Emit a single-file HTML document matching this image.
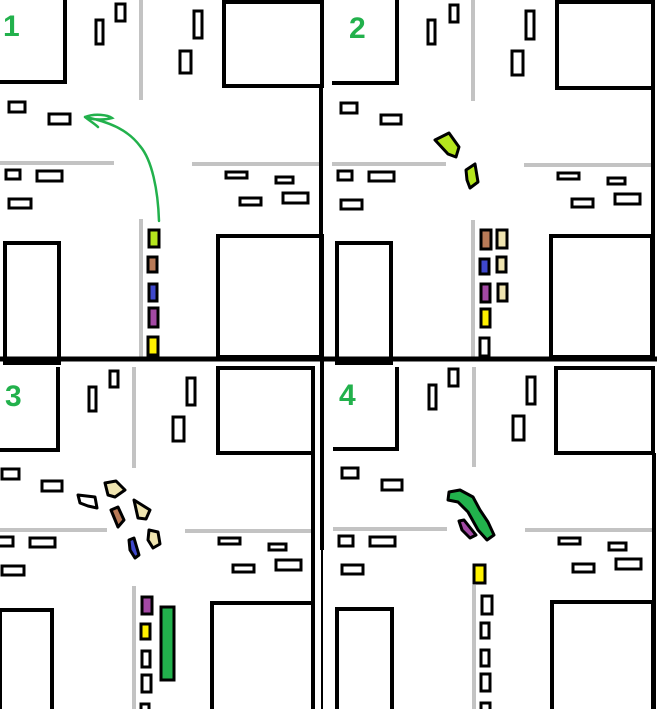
<!DOCTYPE html>
<html><head><style>html,body{margin:0;padding:0;background:#fff}svg{display:block}</style></head><body>
<svg width="657" height="709" viewBox="0 0 657 709" xmlns="http://www.w3.org/2000/svg">
<rect width="657" height="709" fill="#fff"/>
<!-- gray road lines -->
<g stroke="#c3c3c3" stroke-width="4" fill="none">
<line x1="141" y1="0" x2="141" y2="100"/><line x1="0" y1="163" x2="114" y2="163"/><line x1="192" y1="164" x2="320" y2="164"/><line x1="141" y1="219" x2="141" y2="360"/>
<line x1="473" y1="0" x2="473" y2="101"/><line x1="332" y1="164" x2="446" y2="164"/><line x1="524" y1="165" x2="652" y2="165"/><line x1="473" y1="220" x2="473" y2="360"/>
<line x1="134" y1="367" x2="134" y2="468"/><line x1="0" y1="530" x2="107" y2="530"/><line x1="185" y1="531" x2="313" y2="531"/><line x1="134" y1="586" x2="134" y2="709"/>
<line x1="474" y1="367" x2="474" y2="467"/><line x1="333" y1="529" x2="447" y2="529"/><line x1="525" y1="530" x2="653" y2="530"/><line x1="474" y1="585" x2="474" y2="709"/>
</g>
<!-- buildings -->
<g stroke="#000" stroke-width="4" fill="none">
<polyline points="65,0 65,82 0,82"/><rect x="224" y="2" width="98" height="84"/><line x1="321" y1="86" x2="321" y2="360"/>
<rect x="5" y="243" width="54" height="120"/><rect x="218" y="236" width="104" height="121"/>
<line x1="0" y1="359" x2="657" y2="359" stroke-width="5"/>
<polyline points="397,0 397,83 332,83"/><rect x="557" y="2" width="96" height="86"/><line x1="653" y1="88" x2="653" y2="360"/>
<rect x="337" y="243" width="54" height="120"/><rect x="551" y="236" width="101" height="121"/>
<polyline points="58,367 58,450 0,450"/><rect x="218" y="368" width="95" height="85"/><line x1="313" y1="453" x2="313" y2="709"/><line x1="322" y1="355" x2="322" y2="550" stroke-width="4"/><line x1="322" y1="550" x2="322" y2="709" stroke-width="2"/>
<rect x="0" y="610" width="52" height="110"/><rect x="212" y="603" width="101" height="110"/>
<polyline points="397,367 397,449 333,449"/><rect x="556" y="368" width="97" height="85"/><line x1="654" y1="453" x2="654" y2="709"/>
<rect x="337" y="609" width="55" height="110"/><rect x="552" y="602" width="101" height="110"/>
</g>
<!-- parked cars -->
<g stroke="#000" stroke-width="3" fill="#fff">
<rect x="116" y="4" width="9" height="17"/><rect x="96" y="20" width="7" height="24"/><rect x="194" y="11" width="8" height="27"/><rect x="180" y="51" width="11" height="22"/>
<rect x="9" y="102" width="16" height="10"/><rect x="49" y="114" width="21" height="10"/><rect x="6" y="170" width="14" height="9"/><rect x="37" y="171" width="25" height="10"/><rect x="9" y="199" width="22" height="9"/>
<rect x="226" y="172" width="21" height="6"/><rect x="276" y="177" width="17" height="6"/><rect x="240" y="198" width="21" height="7"/><rect x="283" y="193" width="25" height="10"/>
<rect x="450" y="5" width="8" height="17"/><rect x="428" y="20" width="7" height="24"/><rect x="526" y="11" width="8" height="28"/><rect x="512" y="51" width="11" height="24"/>
<rect x="341" y="103" width="16" height="10"/><rect x="381" y="115" width="20" height="9"/><rect x="338" y="171" width="14" height="9"/><rect x="369" y="172" width="25" height="9"/><rect x="341" y="200" width="21" height="9"/>
<rect x="558" y="173" width="21" height="6"/><rect x="608" y="178" width="17" height="6"/><rect x="572" y="199" width="21" height="8"/><rect x="615" y="194" width="25" height="10"/>
<rect x="110" y="371" width="8" height="16"/><rect x="89" y="387" width="7" height="24"/><rect x="187" y="378" width="8" height="27"/><rect x="173" y="417" width="11" height="24"/>
<rect x="2" y="469" width="17" height="10"/><rect x="42" y="481" width="20" height="10"/><rect x="-2" y="537" width="15" height="9"/><rect x="30" y="538" width="25" height="9"/><rect x="2" y="566" width="22" height="9"/>
<rect x="219" y="538" width="21" height="6"/><rect x="269" y="544" width="17" height="6"/><rect x="233" y="565" width="21" height="7"/><rect x="276" y="560" width="25" height="10"/>
<rect x="449" y="369" width="9" height="17"/><rect x="429" y="385" width="7" height="24"/><rect x="527" y="377" width="8" height="27"/><rect x="513" y="416" width="11" height="24"/>
<rect x="342" y="468" width="16" height="10"/><rect x="382" y="480" width="20" height="10"/><rect x="339" y="536" width="14" height="10"/><rect x="370" y="537" width="25" height="9"/><rect x="342" y="565" width="21" height="9"/>
<rect x="559" y="538" width="21" height="6"/><rect x="609" y="543" width="17" height="7"/><rect x="573" y="564" width="21" height="8"/><rect x="616" y="559" width="25" height="10"/>
<!-- lane cars -->
<rect x="149" y="230" width="10" height="17" fill="#b5e61d"/><rect x="148" y="257" width="9" height="15" fill="#b97a57"/><rect x="149" y="284" width="8" height="17" fill="#3f48cc"/><rect x="149" y="308" width="9" height="19" fill="#a349a4"/><rect x="148" y="337" width="10" height="18" fill="#fff200"/>
<rect x="481" y="230" width="10" height="19" fill="#b97a57"/><rect x="497" y="230" width="10" height="18" fill="#efe4b0"/><rect x="480" y="259" width="9" height="15" fill="#3f48cc"/><rect x="497" y="257" width="9" height="15" fill="#efe4b0"/><rect x="481" y="284" width="9" height="18" fill="#a349a4"/><rect x="498" y="284" width="9" height="17" fill="#efe4b0"/><rect x="481" y="309" width="9" height="18" fill="#fff200"/><rect x="480" y="338" width="9" height="18"/>
<rect x="142" y="597" width="10" height="17" fill="#a349a4"/><rect x="141" y="624" width="9" height="15" fill="#fff200"/><rect x="142" y="651" width="8" height="16"/><rect x="142" y="675" width="9" height="17"/><rect x="141" y="704" width="8" height="8"/><rect x="161" y="607" width="13" height="73" fill="#22b14c"/>
<rect x="474" y="565" width="11" height="18" fill="#fff200"/><rect x="482" y="596" width="10" height="18"/><rect x="481" y="623" width="8" height="15"/><rect x="481" y="650" width="8" height="16"/><rect x="481" y="674" width="9" height="17"/><rect x="481" y="703" width="9" height="8"/>
</g>
<!-- crash shapes -->
<g stroke="#000" stroke-width="3" stroke-linejoin="round">
<polygon points="435,140 449,133 459,147 456,157 448,154" fill="#b5e61d"/><polygon points="466,170 475,164 478,182 470,188 467,180" fill="#b5e61d"/>
<polygon points="105,483 116,481 125,490 115,497 108,495" fill="#efe4b0"/><polygon points="78,495 95,497 97,508 88,506 80,503" fill="#fff"/><polygon points="134,500 150,510 146,519 138,518" fill="#efe4b0"/><polygon points="111,510 118,507 124,520 118,527" fill="#b97a57"/><polygon points="149,530 158,532 160,544 153,548 148,540" fill="#efe4b0"/><polygon points="129,540 134,538 139,555 135,558 130,550" fill="#3f48cc"/>
<polygon points="449,492 460,490 473,497 480,510 488,522 494,535 487,540 478,530 468,512 458,502 448,500" fill="#22b14c"/><polygon points="459,521 464,520 476,535 470,538 462,530" fill="#a349a4"/>
</g>
<!-- arrow -->
<path d="M159,221 C158,190 152,160 140,146 C128,130 110,122 85,117 M85,117 C95,113 108,115 112,118 C105,120 95,120 88,118 M85,117 C90,121 95,124 98,127" stroke="#22b14c" stroke-width="2.5" fill="none" stroke-linecap="round"/>
<g font-family="Liberation Sans, sans-serif" font-weight="bold" font-size="30" fill="#22b14c">
<text x="3" y="36">1</text><text x="349" y="38">2</text><text x="5" y="406">3</text><text x="339" y="405">4</text>
</g>
</svg>
</body></html>
